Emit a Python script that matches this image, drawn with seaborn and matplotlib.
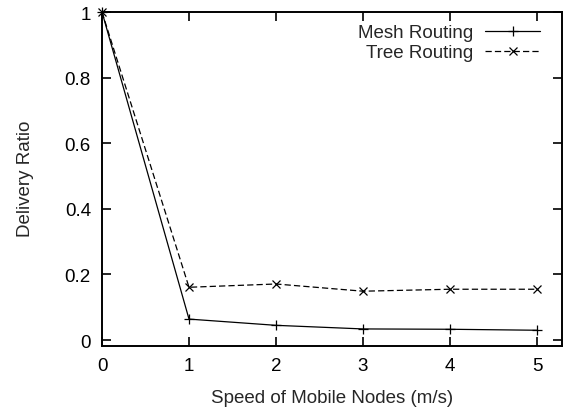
import matplotlib
matplotlib.use("Agg")
import matplotlib.pyplot as plt
import seaborn as sns
import pandas as pd

speed = [0, 1, 2, 3, 4, 5]
mesh_ratio = [1.0, 0.064, 0.045, 0.034, 0.033, 0.030]
tree_ratio = [1.0, 0.161, 0.171, 0.149, 0.155, 0.155]
series_names = ["Mesh Routing", "Tree Routing"]
x_ticks = [0, 1, 2, 3, 4, 5]
y_ticks = [0, 0.2, 0.4, 0.6, 0.8, 1.0]
y_tick_labels = ["0", "0.2", "0.4", "0.6", "0.8", "1"]

sns.set_style("ticks")
plt.rcParams["font.family"] = ["Liberation Sans", "DejaVu Sans"]
FS = 13.5

df_mesh = pd.DataFrame({"speed": speed, "ratio": mesh_ratio})
df_tree = pd.DataFrame({"speed": speed, "ratio": tree_ratio})

fig = plt.figure(figsize=(5.63, 4.10), dpi=100)
ax = fig.add_axes([102 / 563, 1 - 347 / 410, (562 - 102) / 563, (347 - 13) / 410])

sns.lineplot(data=df_mesh, x="speed", y="ratio", ax=ax, color="black", lw=0.9,
             marker="+", markersize=7, markeredgewidth=0.9, markeredgecolor="black",
             label=series_names[0], clip_on=False)
sns.lineplot(data=df_tree, x="speed", y="ratio", ax=ax, color="black", lw=0.9,
             marker="x", markersize=5.5, markeredgewidth=0.9, markeredgecolor="black",
             label=series_names[1], clip_on=False)
ax.get_lines()[1].set_dashes((5, 2.5))

ax.set_xlim(0, 5.287)
ax.set_ylim(-0.018, 1.0)
ax.set_xticks(x_ticks)
ax.set_xticklabels([str(t) for t in x_ticks])
ax.set_yticks(y_ticks)
ax.set_yticklabels(y_tick_labels)

for s in ax.spines.values():
    s.set_linewidth(1.4)
    s.set_color("black")
    s.set_visible(True)
ax.tick_params(direction="in", length=6.5, width=1.2, labelsize=FS, pad=8,
               top=True, right=True, colors="black")

ax.set_xlabel("Speed of Mobile Nodes (m/s)", fontsize=FS, labelpad=11)
ax.set_ylabel("Delivery Ratio", fontsize=FS, labelpad=22)
ax.yaxis.label.set_y(0.505)

leg = ax.legend(loc="upper right", bbox_to_anchor=(540 / 563, 1 - 25 / 410),
                bbox_transform=fig.transFigure, frameon=False, markerfirst=False,
                handlelength=2.93, handletextpad=0.64, labelspacing=0.17,
                borderpad=0, borderaxespad=0, fontsize=FS, numpoints=1)

fig.savefig("out.png", dpi=100)
